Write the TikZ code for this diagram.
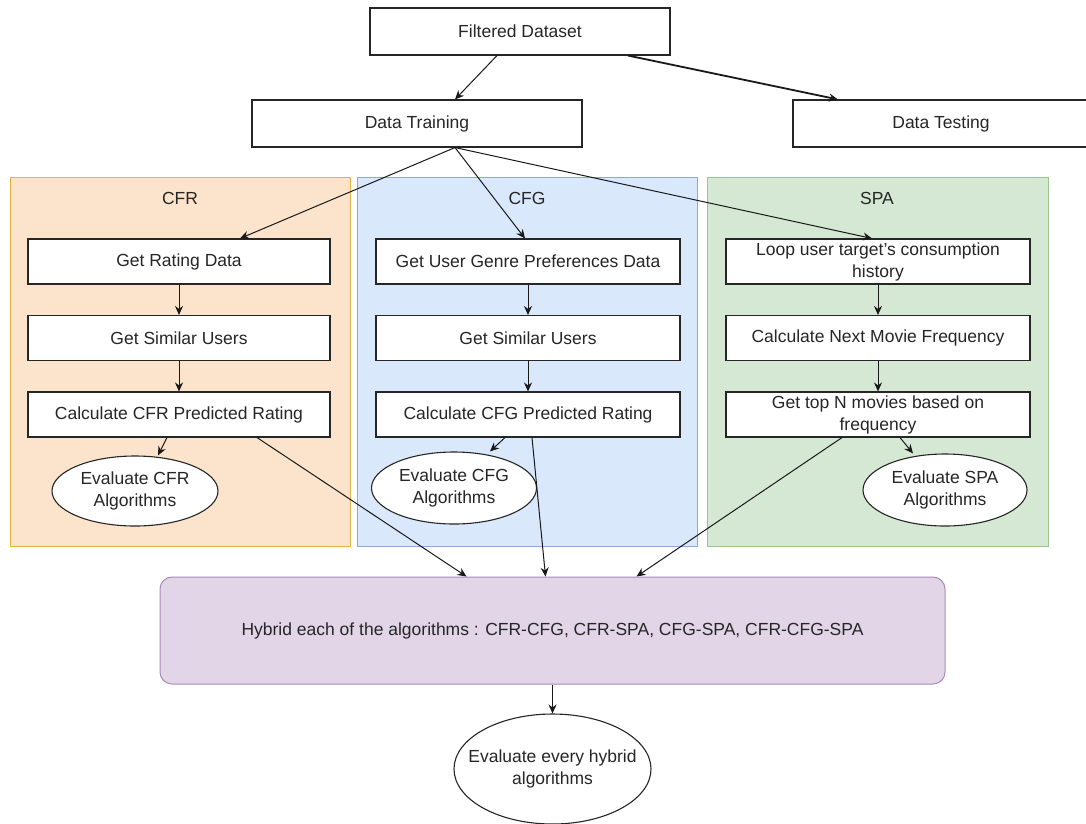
\documentclass[tikz,border=0pt]{standalone}
\usepackage{fontspec}
\setmainfont{Liberation Sans}
\usetikzlibrary{arrows.meta,shapes.geometric}
\definecolor{txt}{HTML}{262626}
\definecolor{orfill}{HTML}{FCE3CB}
\definecolor{ordraw}{HTML}{E3B447}
\definecolor{blfill}{HTML}{DAE8FC}
\definecolor{bldraw}{HTML}{8FA9D3}
\definecolor{grfill}{HTML}{D5E8D4}
\definecolor{grdraw}{HTML}{9CC48E}
\definecolor{pufill}{HTML}{E1D5E7}
\definecolor{pudraw}{HTML}{A98BBA}
\tikzset{
  fnt/.style={text=txt,font=\fontsize{17.5}{22}\selectfont},
  box/.style={fnt,draw=black!85,line width=1.1pt,fill=white,minimum height=45pt,inner sep=1pt,align=center},
  oval/.style={ellipse,draw=black!85,line width=1.1pt,fill=white,inner sep=0pt},
  otext/.style={fnt,align=center,inner sep=0pt},
  group/.style={line width=1pt,minimum width=340pt,minimum height=369pt,inner sep=0pt},
  ttl/.style={fnt},
  arr/.style={-{Stealth[length=9pt,width=8pt]},line width=1pt,draw=black!90}
}
\begin{document}
\begin{tikzpicture}[x=1pt,y=-1pt]
\useasboundingbox (0,0) rectangle (1086,823);
\fill[white] (0,0) rectangle (1086,823);
% containers
\node[group,draw=ordraw,fill=orfill] (gcfr) at (180,361.5) {};
\node[group,draw=bldraw,fill=blfill] (gcfg) at (527,361.5) {};
\node[group,draw=grdraw,fill=grfill,minimum width=341pt] (gspa) at (877.5,361.5) {};
\node[ttl] (tcfr) at (180,198) {CFR};
\node[ttl] (tcfg) at (527,198) {CFG};
\node[ttl] (tspa) at (877,198) {SPA};
% top
\node[box,minimum width=300pt,minimum height=47pt] (fd) at (520,31.5) {Filtered Dataset};
\node[box,minimum width=330pt,minimum height=47pt] (dtr) at (417,123.5) {Data Training};
\node[box,minimum width=296pt,minimum height=47pt] (dte) at (941,123.5) {Data Testing};
% CFR
\node[box,minimum width=302pt] (r1) at (179,261.5) {Get Rating Data};
\node[box,minimum width=302pt] (r2) at (179,338) {Get Similar Users};
\node[box,minimum width=302pt] (r3) at (179,414.5) {Calculate CFR Predicted Rating};
\node[oval,minimum width=166pt,minimum height=70pt] (re) at (135,491) {};
\node[otext] (ret) at (re.center) {Evaluate CFR\\Algorithms};
% CFG
\node[box,minimum width=304pt] (g1) at (528,261.5) {Get User Genre Preferences Data};
\node[box,minimum width=304pt] (g2) at (528,338) {Get Similar Users};
\node[box,minimum width=304pt] (g3) at (528,414.5) {Calculate CFG Predicted Rating};
\node[oval,minimum width=165pt,minimum height=72pt] (ge) at (454,488) {};
\node[otext] (get) at (ge.center) {Evaluate CFG\\Algorithms};
% SPA
\node[box,minimum width=304pt] (s1) at (878,261.5) {Loop user target's consumption\\history};
\node[box,minimum width=304pt] (s2) at (878,338) {Calculate Next Movie Frequency};
\node[box,minimum width=304pt] (s3) at (878,414.5) {Get top N movies based on\\frequency};
\node[oval,minimum width=164pt,minimum height=72pt] (se) at (945,490) {};
\node[otext] (set) at (se.center) {Evaluate SPA\\Algorithms};
% hybrid
\node[fnt,draw=pudraw,fill=pufill,line width=1pt,rounded corners=12pt,minimum width=785pt,minimum height=107pt] (hy) at (552.5,630.5) {Hybrid each of the algorithms : CFR-CFG, CFR-SPA, CFG-SPA, CFR-CFG-SPA};
\node[oval,minimum width=197pt,minimum height=110pt] (fe) at (552.5,769) {};
\node[otext] (fet) at (fe.center) {Evaluate every hybrid\\algorithms};
% connectors top
\draw[arr] ([xshift=-23pt]fd.south) -- ([xshift=38pt]dtr.north);
\draw[arr,line width=1.8pt] ([xshift=108pt]fd.south) -- ([xshift=-103pt]dte.north);
\draw[arr] ([xshift=38pt]dtr.south) -- ([xshift=61pt]r1.north);
\draw[arr] ([xshift=38pt]dtr.south) -- ([xshift=-3pt]g1.north);
\draw[arr] ([xshift=38pt]dtr.south) -- ([xshift=-6pt]s1.north);
% within groups
\draw[arr] (r1) -- (r2);
\draw[arr] (r2) -- (r3);
\draw[arr] ([xshift=-12pt]r3.south) -- ([xshift=23pt]re.north);
\draw[arr] (g1) -- (g2);
\draw[arr] (g2) -- (g3);
\draw[arr] ([xshift=-23pt]g3.south) -- ([xshift=36pt]ge.north);
\draw[arr] (s1) -- (s2);
\draw[arr] (s2) -- (s3);
\draw[arr] ([xshift=22pt]s3.south) -- ([xshift=-32pt]se.north);
% to hybrid
\draw[arr] ([xshift=78pt]r3.south) -- ([xshift=-86pt]hy.north);
\draw[arr] ([xshift=4pt]g3.south) -- ([xshift=-7pt]hy.north);
\draw[arr] ([xshift=-36pt]s3.south) -- ([xshift=84pt]hy.north);
\draw[arr] (hy.south) -- (fe.north);
\end{tikzpicture}
\end{document}
